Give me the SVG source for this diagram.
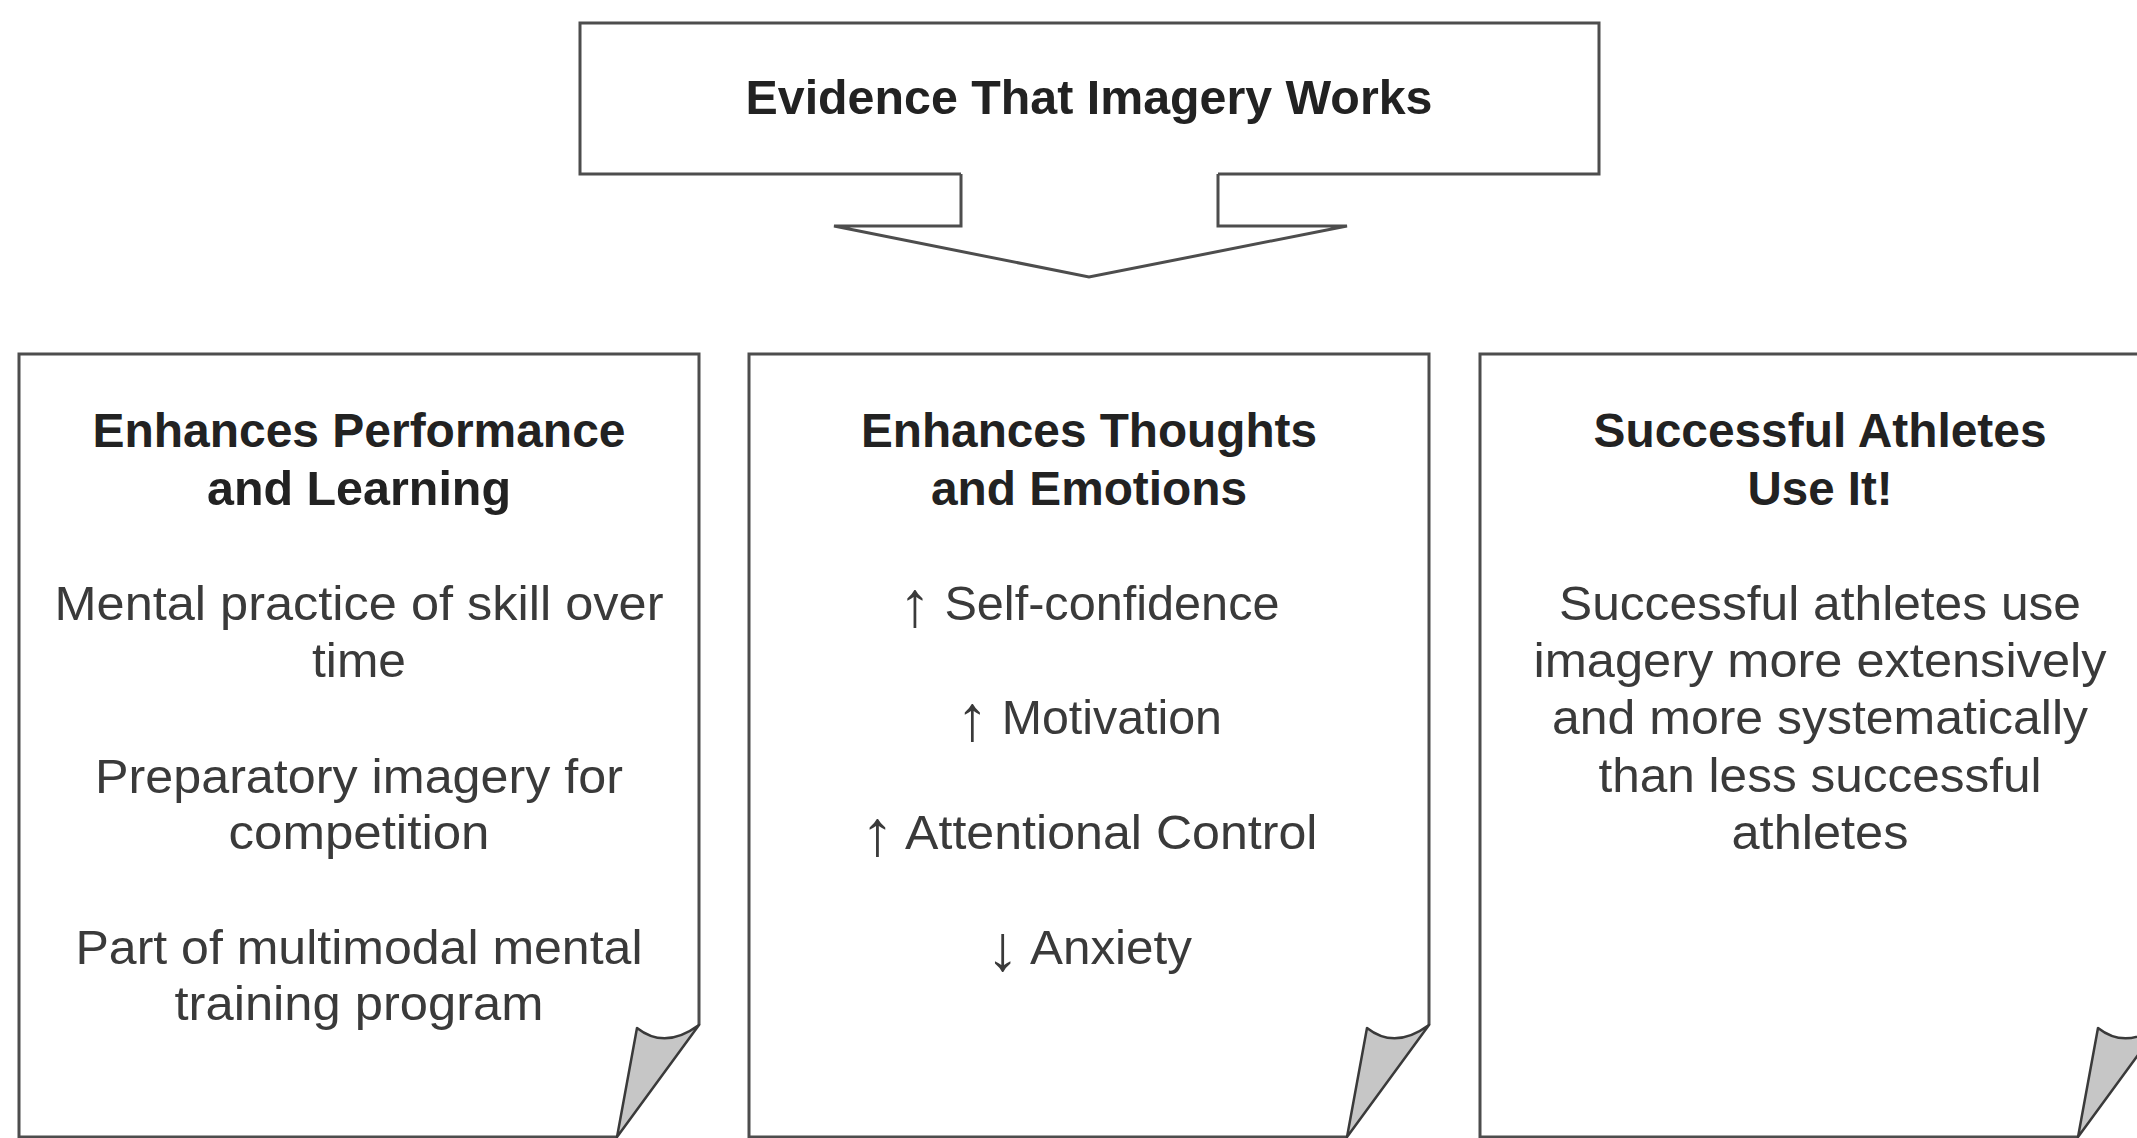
<svg xmlns="http://www.w3.org/2000/svg" width="2137" height="1138" viewBox="0 0 2137 1138">
  <style>
    .frame { fill: none; stroke: #4d4d4d; stroke-width: 3; stroke-linejoin: miter; }
    .sheet { fill: #ffffff; }
    .fold { fill: #c6c6c6; stroke: #3a3a3a; stroke-width: 2.5; stroke-linejoin: round; }
    .head { font-family: "Liberation Sans", Arial, sans-serif; font-weight: bold; font-size: 48px; fill: #222222; text-anchor: middle; }
    .body { font-family: "Liberation Sans", Arial, sans-serif; font-size: 48px; fill: #3a3a3a; text-anchor: middle; }
    .dir { font-size: 64px; }
  </style>
  <defs>
    <!-- sheet with a curled lower-right corner, local coordinates 680 x 783 -->
    <path id="sheet-fill" d="M0,0 H680 V671 L598,783 H0 Z"/>
    <path id="sheet-edge" d="M598,783 H0 V0 H680 V671"/>
    <path id="sheet-curl" d="M680,671 Q646,696 618,674 L598,783 Z"/>
  </defs>

  <rect width="2137" height="1138" fill="#ffffff"/>

  <!-- heading box -->
  <g id="evidence">
    <path class="frame" d="M961,174 H580 V23 H1599 V174 H1218"/>
    <text class="head" x="1089" y="114" textLength="687" lengthAdjust="spacingAndGlyphs">Evidence That Imagery Works</text>
  </g>

  <!-- block arrow leading down to the three sheets -->
  <g id="connectors">
    <path class="frame" d="M961,174 V226 H834 L1089,277 L1347,226 H1218 V174"/>
  </g>

  <g id="performance" transform="translate(19,354)">
    <use href="#sheet-fill" class="sheet"/>
    <use href="#sheet-edge" class="frame"/>
    <use href="#sheet-curl" class="fold"/>
    <text class="head" x="340" y="93" textLength="533" lengthAdjust="spacingAndGlyphs">Enhances Performance</text>
    <text class="head" x="340" y="151" textLength="304" lengthAdjust="spacingAndGlyphs">and Learning</text>
    <text class="body" x="340" y="266" textLength="609" lengthAdjust="spacingAndGlyphs">Mental practice of skill over</text>
    <text class="body" x="340" y="323" textLength="94" lengthAdjust="spacingAndGlyphs">time</text>
    <text class="body" x="340" y="439" textLength="528" lengthAdjust="spacingAndGlyphs">Preparatory imagery for</text>
    <text class="body" x="340" y="495" textLength="261" lengthAdjust="spacingAndGlyphs">competition</text>
    <text class="body" x="340" y="610" textLength="567" lengthAdjust="spacingAndGlyphs">Part of multimodal mental</text>
    <text class="body" x="340" y="666" textLength="369" lengthAdjust="spacingAndGlyphs">training program</text>
  </g>

  <g id="thoughts" transform="translate(749,354)">
    <use href="#sheet-fill" class="sheet"/>
    <use href="#sheet-edge" class="frame"/>
    <use href="#sheet-curl" class="fold"/>
    <text class="head" x="340" y="93" textLength="456" lengthAdjust="spacingAndGlyphs">Enhances Thoughts</text>
    <text class="head" x="340" y="151" textLength="316" lengthAdjust="spacingAndGlyphs">and Emotions</text>
    <text class="body" x="340" y="266" textLength="381" lengthAdjust="spacingAndGlyphs"><tspan class="dir" dy="6">↑</tspan><tspan dy="-6"> Self-confidence</tspan></text>
    <text class="body" x="340" y="380" textLength="266" lengthAdjust="spacingAndGlyphs"><tspan class="dir" dy="6">↑</tspan><tspan dy="-6"> Motivation</tspan></text>
    <text class="body" x="340" y="495" textLength="457" lengthAdjust="spacingAndGlyphs"><tspan class="dir" dy="6">↑</tspan><tspan dy="-6"> Attentional Control</tspan></text>
    <text class="body" x="340" y="610" textLength="206" lengthAdjust="spacingAndGlyphs"><tspan class="dir" dy="6">↓</tspan><tspan dy="-6"> Anxiety</tspan></text>
  </g>

  <g id="athletes" transform="translate(1480,354)">
    <use href="#sheet-fill" class="sheet"/>
    <use href="#sheet-edge" class="frame"/>
    <use href="#sheet-curl" class="fold"/>
    <text class="head" x="340" y="93" textLength="453" lengthAdjust="spacingAndGlyphs">Successful Athletes</text>
    <text class="head" x="340" y="151" textLength="145" lengthAdjust="spacingAndGlyphs">Use It!</text>
    <text class="body" x="340" y="266" textLength="522" lengthAdjust="spacingAndGlyphs">Successful athletes use</text>
    <text class="body" x="340" y="323" textLength="573" lengthAdjust="spacingAndGlyphs">imagery more extensively</text>
    <text class="body" x="340" y="380" textLength="536" lengthAdjust="spacingAndGlyphs">and more systematically</text>
    <text class="body" x="340" y="438" textLength="443" lengthAdjust="spacingAndGlyphs">than less successful</text>
    <text class="body" x="340" y="495" textLength="177" lengthAdjust="spacingAndGlyphs">athletes</text>
  </g>
</svg>
